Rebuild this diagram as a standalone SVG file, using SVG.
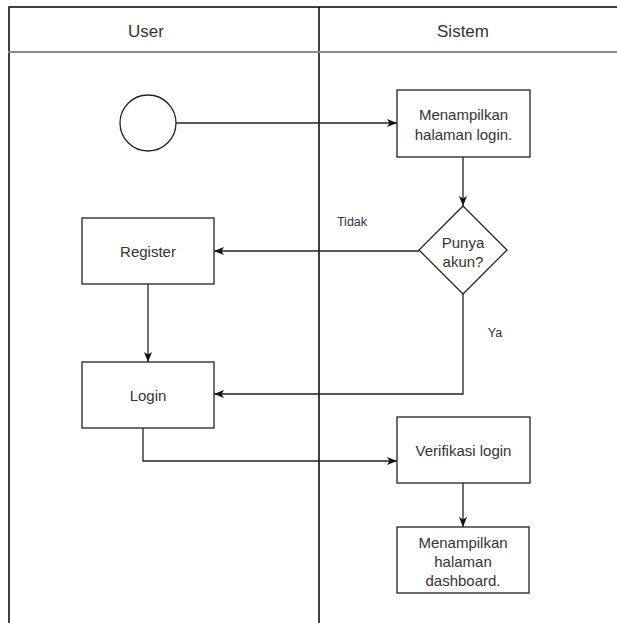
<svg xmlns="http://www.w3.org/2000/svg" width="617" height="623" viewBox="0 0 617 623">
<style>
.lane{fill:none;stroke:#000;stroke-width:1.5}
.hdr{stroke:#8a8a8a;stroke-width:2;fill:none}
.node{fill:#fff;stroke:#222;stroke-width:1.3}
.edge{fill:none;stroke:#222;stroke-width:1.3}
.t{font-family:"Liberation Sans",Arial,sans-serif;font-size:15px;fill:#333;text-anchor:middle;dominant-baseline:central}
.h{font-family:"Liberation Sans",Arial,sans-serif;font-size:17px;fill:#333;text-anchor:middle;dominant-baseline:central}
.lbl{font-family:"Liberation Sans",Arial,sans-serif;font-size:12.5px;fill:#333;text-anchor:middle;dominant-baseline:central}
</style>
<defs>
<marker id="arr" viewBox="0 0 10 10" refX="10" refY="5" markerWidth="10" markerHeight="10" markerUnits="userSpaceOnUse" orient="auto">
<path d="M0,1 L10,5 L0,9 L2.5,5 Z" fill="#111"/>
</marker>
</defs>
<rect width="617" height="623" fill="#fff"/>
<g id="pool">
<path class="lane" d="M9,623 V7 H617"/>
<line class="lane" x1="319" y1="7" x2="319" y2="623"/>
<line class="hdr" x1="8" y1="52" x2="617" y2="52"/>
<text class="h" x="146" y="31">User</text>
<text class="h" x="463" y="31">Sistem</text>
</g>
<g id="connectors">
<path class="edge" d="M176,123 H397" marker-end="url(#arr)"/>
<path class="edge" d="M463,157 V206" marker-end="url(#arr)"/>
<path class="edge" d="M419,251 H214" marker-end="url(#arr)"/>
<path class="edge" d="M148,284 V362" marker-end="url(#arr)"/>
<path class="edge" d="M463,294 V394 H214" marker-end="url(#arr)"/>
<path class="edge" d="M143,428 V461 H397" marker-end="url(#arr)"/>
<path class="edge" d="M463,483 V527" marker-end="url(#arr)"/>
<text class="lbl" x="352" y="222">Tidak</text>
<text class="lbl" x="495" y="333">Ya</text>
</g>
<g id="start">
<circle class="node" cx="148" cy="123" r="28"/>
</g>
<g id="tampil-login">
<rect class="node" x="397" y="90" width="133" height="67"/>
<text class="t" x="463.5" y="114">Menampilkan</text>
<text class="t" x="463.5" y="134">halaman login.</text>
</g>
<g id="punya-akun">
<polygon class="node" points="463,206 507,250 463,294 419,250"/>
<text class="t" x="463" y="242">Punya</text>
<text class="t" x="463" y="261">akun?</text>
</g>
<g id="register">
<rect class="node" x="82" y="218" width="132" height="66"/>
<text class="t" x="148" y="251">Register</text>
</g>
<g id="login">
<rect class="node" x="82" y="362" width="132" height="66"/>
<text class="t" x="148" y="395">Login</text>
</g>
<g id="verifikasi">
<rect class="node" x="397" y="417" width="133" height="66"/>
<text class="t" x="463.5" y="450">Verifikasi login</text>
</g>
<g id="dashboard">
<rect class="node" x="397" y="527" width="132" height="66"/>
<text class="t" x="463" y="542">Menampilkan</text>
<text class="t" x="463" y="561">halaman</text>
<text class="t" x="463" y="580">dashboard.</text>
</g>
</svg>
